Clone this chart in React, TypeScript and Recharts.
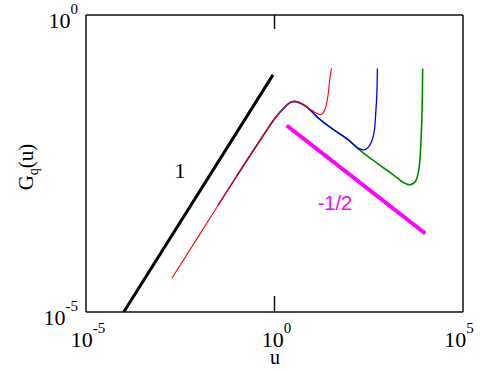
import { Label, Line, LineChart, ReferenceDot, XAxis, YAxis } from 'recharts'

// [u, G] pairs (log-log plot)
const RED: [number, number][] = [
  [1.9e-3, 3.7e-5], [1e-2, 1.95e-4], [0.1, 1.95e-3], [0.5, 9.3e-3], [1.0, 0.018],
  [1.9, 0.0286], [2.6, 0.034], [3.5, 0.0355], [5.2, 0.0326], [8.7, 0.0263],
  [13.2, 0.0221], [16.2, 0.0209], [20, 0.0229], [22.9, 0.0282], [26.3, 0.0447],
  [28.8, 0.0759], [30.9, 0.105], [32.4, 0.126],
]

const BLUE: [number, number][] = [
  [0.032, 6.3e-4], [0.1, 1.95e-3], [0.5, 9.3e-3], [1.0, 0.0178], [1.9, 0.0283],
  [2.6, 0.0335], [3.5, 0.035], [5.2, 0.032], [8.7, 0.0255], [13.2, 0.0195],
  [33, 0.0123], [91, 0.0079], [166, 0.00575], [229, 0.00537], [339, 0.00646],
  [447, 0.0115], [490, 0.0251], [525, 0.0617], [537, 0.126],
]

const GREEN: [number, number][] = [
  [0.1, 1.95e-3], [0.5, 9.3e-3], [1.0, 0.0178], [1.9, 0.0283], [2.6, 0.0335],
  [3.5, 0.035], [5.2, 0.032], [8.7, 0.0255], [13.2, 0.0195], [33, 0.0123],
  [91, 0.0079], [186, 0.00525], [513, 0.00324], [1413, 0.00204], [2630, 0.00151],
  [3802, 0.00138], [5370, 0.00155], [6918, 0.00282], [7762, 0.00891], [8318, 0.0372],
  [8511, 0.126],
]

// guide lines: slope 1 and slope -1/2
const SLOPE_ONE: [number, number][] = [[1e-4, 1e-5], [0.91, 0.098]]
const SLOPE_HALF: [number, number][] = [[2.1, 0.0138], [1e4, 2.1e-4]]

const X_TICKS = [1e-5, 1, 1e5]
const Y_TICKS = [1e-5, 1]
const X_DOMAIN = [1e-5, 1e5]
const Y_DOMAIN = [1e-5, 1]

const FONT = '"Liberation Serif", "DejaVu Serif", serif'
const FRAME = { stroke: '#111', strokeWidth: 1.5 }
const PLOT_H = 297 // 370 - 58 (x axis) - 15 (top margin)

const toRows = (pts: [number, number][]) => pts.map(([u, G]) => ({ u, G }))

const exp = (v: number) => String(Math.round(Math.log10(v)))

// bottom tick label plus the inward tick marks on the bottom and top edges of the frame
function BottomTick({ x, y, payload }: any) {
  const inner = payload.value > X_DOMAIN[0] && payload.value < X_DOMAIN[1]
  return (
    <g>
      {inner ? <line x1={x} y1={y} x2={x} y2={y - 16} stroke="#111" strokeWidth={1.5} /> : null}
      {inner ? <line x1={x} y1={y - PLOT_H} x2={x} y2={y - PLOT_H + 14} stroke="#111" strokeWidth={1.5} /> : null}
      <text x={x + 2} y={y + 35} textAnchor="middle" fontFamily={FONT} fontSize={22} fill="#000">
        10<tspan dy={-14} fontSize={15}>{exp(payload.value)}</tspan>
      </text>
    </g>
  )
}

function LeftTick({ x, y, payload }: any) {
  return (
    <text x={x - 8} y={y + 13} textAnchor="end" fontFamily={FONT} fontSize={22} fill="#000">
      10<tspan dy={-14} fontSize={15}>{exp(payload.value)}</tspan>
    </text>
  )
}

function Note({ viewBox, text, color, size, family }: any) {
  const cx = viewBox.x + (viewBox.width || 0) / 2
  const cy = viewBox.y + (viewBox.height || 0) / 2
  return (
    <text x={cx} y={cy} textAnchor="middle" dominantBaseline="central" fontFamily={family} fontSize={size} fill={color}>
      {text}
    </text>
  )
}

export default function App() {
  return (
    <div style={{ position: 'absolute', left: 0, top: 0, background: '#fff' }}>
      <LineChart width={481} height={370} margin={{ top: 14, right: 17, bottom: 0, left: 0 }}>
        <XAxis
          dataKey="u"
          type="number"
          scale="log"
          domain={X_DOMAIN}
          allowDataOverflow
          ticks={X_TICKS}
          tickSize={0}
          tickMargin={0}
          tickLine={false}
          height={58}
          axisLine={FRAME}
          tick={<BottomTick />}
        >
          <Label
            content={({ viewBox }: any) => (
              <text x={viewBox.x + viewBox.width / 2 + 0.5} y={viewBox.y + 52} textAnchor="middle" fontFamily={FONT} fontSize={20}>
                u
              </text>
            )}
          />
        </XAxis>
        <XAxis
          xAxisId="top"
          orientation="top"
          dataKey="u"
          type="number"
          scale="log"
          domain={X_DOMAIN}
          allowDataOverflow
          tick={false}
          tickLine={false}
          height={1}
          axisLine={FRAME}
        />
        <YAxis
          type="number"
          scale="log"
          domain={Y_DOMAIN}
          allowDataOverflow
          ticks={Y_TICKS}
          tickSize={0}
          tickMargin={0}
          tickLine={false}
          width={86}
          axisLine={FRAME}
          tick={<LeftTick />}
        >
          <Label
            content={() => (
              <text x={33} y={167} transform="rotate(-90 33 167)" textAnchor="middle" fontFamily={FONT} fontSize={21}>
                G<tspan dy={5} fontSize={14}>q</tspan>
                <tspan dy={-5}>(u)</tspan>
              </text>
            )}
          />
        </YAxis>
        <YAxis
          yAxisId="right"
          orientation="right"
          type="number"
          scale="log"
          domain={Y_DOMAIN}
          allowDataOverflow
          tick={false}
          tickLine={false}
          width={1}
          axisLine={FRAME}
        />

        <Line data={toRows(SLOPE_ONE)} dataKey="G" stroke="#000" strokeWidth={3} dot={false} isAnimationActive={false} />
        <Line data={toRows(SLOPE_HALF)} dataKey="G" stroke="#ff00ff" strokeWidth={4} dot={false} isAnimationActive={false} />
        <Line data={toRows(GREEN)} type="monotone" dataKey="G" stroke="#008a00" strokeWidth={1.6} dot={false} isAnimationActive={false} />
        <Line data={toRows(BLUE)} type="monotone" dataKey="G" stroke="#0000ff" strokeWidth={1.3} dot={false} isAnimationActive={false} />
        <Line data={toRows(RED)} type="monotone" dataKey="G" stroke="#ff0000" strokeWidth={1.1} dot={false} isAnimationActive={false} />

        <ReferenceDot
          x={3.1e-3}
          y={2.45e-3}
          r={0}
          stroke="none"
          label={<Note text="1" color="#000" size={22} family={FONT} />}
        />
        <ReferenceDot
          x={40}
          y={6.8e-4}
          r={0}
          stroke="none"
          label={<Note text="-1/2" color="#ff00ff" size={20} family='"Liberation Sans", Arial, sans-serif' />}
        />
      </LineChart>
    </div>
  )
}
